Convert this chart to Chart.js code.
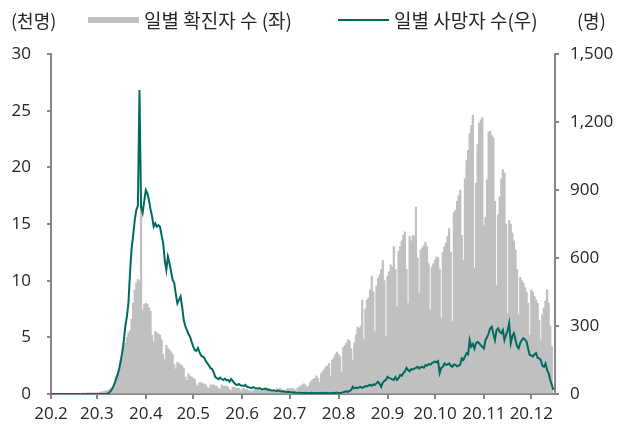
<!DOCTYPE html>
<html>
<head>
<meta charset="utf-8">
<script src="https://cdn.jsdelivr.net/npm/chart.js@4.4.0/dist/chart.umd.min.js"></script>
<style>
  html, body { margin: 0; padding: 0; background: #fff; }
</style>
</head>
<body>
<canvas id="myChart" width="630" height="428"></canvas>
<script>
// month tick labels and number of days shown in each month (Feb 1 .. Dec 16, 2020)
const monthTicks = ["20.2", "20.3", "20.4", "20.5", "20.6", "20.7", "20.8", "20.9", "20.10", "20.11", "20.12"];
const monthDays = [29, 31, 30, 31, 30, 31, 31, 30, 31, 30, 16];

// daily confirmed cases, thousands (left axis)
const casesFeb = [0,0,0,0,0,0,0,0,0,0,0,0,0,0,0,0,0,0,0,0,0.05,0.05,0,0.1,0.05,0.05,0.1,0.1,0.1];
const casesMar = [0.1,0.1,0.15,0.2,0.2,0.25,0.3,0.3,0.4,0.5,0.6,0.8,1.5,1.6,2.2,3.0,3.6,4.3,4.5,5.0,5.4,5.6,6.6,8.0,9.2,9.8,10.1,10.0,16.5,7.4,7.9];
const casesApr = [8.0,7.9,7.6,7.3,5.2,4.6,5.5,5.4,5.3,5.2,4.8,3.5,3.0,4.3,4.0,3.9,3.7,3.5,2.6,2.2,2.8,2.7,2.6,2.5,2.3,1.5,1.2,1.8,1.6,1.5];
const casesMay = [1.4,1.3,0.8,0.7,1.0,1.0,0.9,0.9,0.8,0.6,0.5,0.8,0.8,0.8,0.7,0.7,0.5,0.4,0.8,0.7,0.7,0.7,0.6,0.4,0.3,0.6,0.6,0.5,0.5,0.5,0.3];
const casesJun = [0.4,0.5,0.4,0.4,0.3,0.3,0.2,0.3,0.4,0.4,0.4,0.3,0.3,0.2,0.3,0.4,0.4,0.5,0.4,0.3,0.2,0.3,0.5,0.4,0.5,0.4,0.3,0.3,0.4,0.5];
const casesJul = [0.4,0.5,0.5,0.4,0.3,0.5,0.6,0.7,0.8,0.9,0.8,0.6,0.7,1.0,1.2,1.3,1.4,1.6,1.4,1.0,1.8,2.0,2.2,2.4,2.5,2.7,1.6,3.0,3.2,3.5,3.7];
const casesAug = [3.5,3.3,1.9,4.1,4.3,4.5,4.8,4.7,4.0,3.0,4.5,5.2,5.9,5.8,6.0,8.3,4.8,7.5,8.3,8.5,9.2,10.4,9.0,5.5,9.5,10.2,10.5,11.0,11.8,10.0,5.1];
const casesSep = [10.4,10.8,11.4,11.2,13.0,11.0,7.7,12.6,13.0,13.5,14.0,14.3,11.0,8.0,13.9,13.5,14.0,13.9,16.5,12.0,8.9,12.7,12.9,13.1,13.4,13.0,11.5,7.4,11.2,11.5];
const casesOct = [11.8,12.1,12.0,11.0,6.7,12.5,13.0,13.3,13.9,14.6,12.5,6.4,16.0,16.2,17.0,17.5,18.0,14.0,11.8,19.0,20.6,21.5,23.0,23.7,24.6,11.1,18.6,22.0,23.9,24.2,24.4];
const casesNov = [14.9,15.6,18.9,23.1,23.2,22.8,22.6,17.0,9.6,15.8,17.4,19.0,19.8,19.5,15.0,7.1,15.3,15.0,14.2,13.5,12.7,11.0,7.0,10.3,10.0,9.8,9.4,9.0,8.0,5.2];
const casesDec = [9.2,9.0,8.6,8.3,8.0,6.5,4.8,7.0,7.6,8.2,9.2,8.0,6.0,4.2,null,null];

// daily deaths, persons (right axis)
const deathsFeb = [0,0,0,0,0,0,0,0,0,0,0,0,0,0,0,0,0,0,0,0,0,0,0,0,0,0,0,0,0];
const deathsMar = [0,0,0,0,0,0,0,2,8,15,26,42,62,82,106,140,180,230,297,340,400,533,640,700,767,812,830,1341,826,800,850];
const deathsApr = [900,885,856,815,782,738,753,738,745,738,700,665,590,547,606,577,540,503,489,440,400,415,430,385,326,300,282,265,253,230];
const deathsMay = [210,194,190,203,185,170,165,160,145,135,125,114,110,95,75,70,65,72,66,62,68,60,62,55,66,58,48,42,40,44,38];
const deathsJun = [38,35,40,32,30,28,26,30,27,25,24,26,22,20,22,24,20,18,17,15,16,14,13,15,12,11,12,10,9,10];
const deathsJul = [9,8,7,8,6,5,5,6,5,4,5,4,3,4,5,4,3,4,3,4,5,4,3,5,4,3,3,4,5,4,6];
const deathsAug = [5,4,6,8,10,12,9,14,18,32,25,28,26,30,32,27,30,35,33,38,40,36,42,40,48,54,45,32,50,58,62];
const deathsSep = [76,70,69,65,62,75,62,70,84,80,92,100,115,106,100,110,108,112,115,120,112,118,120,116,128,125,132,130,135,140];
const deathsOct = [143,140,145,92,115,120,135,128,130,135,125,120,130,128,122,125,130,157,150,165,180,175,238,209,220,200,224,230,224,215,209];
const deathsNov = [201,238,250,268,290,297,265,238,282,290,275,268,282,238,260,280,312,224,255,268,238,210,201,225,238,246,240,231,200,172];
const deathsDec = [170,165,175,180,160,157,150,125,120,135,106,91,62,40,18,null];

const barColor = "#c0c0c0";
const lineColor = "#006b5f";
const axisColor = "#868686";
const textColor = "#262626";

let cases = [].concat(casesFeb, casesMar, casesApr, casesMay, casesJun, casesJul, casesAug, casesSep, casesOct, casesNov, casesDec);
let deaths = [].concat(deathsFeb, deathsMar, deathsApr, deathsMay, deathsJun, deathsJul, deathsAug, deathsSep, deathsOct, deathsNov, deathsDec);

// one category per day, month label on the first day only
let labels = [];
monthDays.forEach((n, m) => {
    for (let i = 0; i < n; i++) labels.push(i === 0 ? monthTicks[m] : "");
});

let headerText = {
    id: "headerText",
    afterDraw: (chart) => {
        let c = chart.ctx;
        c.save();
        c.fillStyle = textColor;
        c.textBaseline = "middle";
        c.textAlign = "left";
        c.font = '18px "Noto Sans CJK KR"';
        c.fillText("(천명)", 11, 21);
        c.fillText("(명)", 577, 21);
        c.font = '19px "Noto Sans CJK KR"';
        c.fillText("일별 확진자 수 (좌)", 144, 21);
        c.fillText("일별 사망자 수(우)", 394, 21);
        c.fillStyle = barColor;
        c.fillRect(88, 17, 51, 6);
        c.strokeStyle = lineColor;
        c.lineWidth = 2;
        c.beginPath();
        c.moveTo(338, 20);
        c.lineTo(389, 20);
        c.stroke();
        c.restore();
    },
};

var ctx = document.getElementById("myChart").getContext("2d");
var myChart = new Chart(ctx, {
    type: "bar",
    data: {
        labels: labels,
        datasets: [
            {
                type: "line",
                label: "일별 사망자 수(우)",
                data: deaths,
                yAxisID: "y1",
                borderColor: lineColor,
                borderWidth: 2,
                pointRadius: 0,
                tension: 0,
                order: 0,
            },
            {
                label: "일별 확진자 수 (좌)",
                data: cases,
                yAxisID: "y",
                backgroundColor: barColor,
                borderWidth: 0,
                barPercentage: 1,
                categoryPercentage: 1,
                order: 1,
            },
        ],
    },
    options: {
        responsive: false,
        animation: false,
        devicePixelRatio: 1,
        layout: { padding: { top: 54 } },
        plugins: {
            legend: { display: false },
            tooltip: { enabled: false },
        },
        scales: {
            x: {
                offset: false,
                grid: { offset: false, drawOnChartArea: false, color: axisColor, tickLength: 5, lineWidth: 2 },
                border: { color: axisColor, width: 2 },
                ticks: {
                    autoSkip: false,
                    maxRotation: 0,
                    padding: 5,
                    color: textColor,
                    font: { family: "Open Sans", size: 17 },
                    callback: (v, i) => (labels[i] ? labels[i] : null),
                },
                afterFit: (s) => { s.height = 34; },
            },
            y: {
                position: "left",
                min: 0,
                max: 30,
                grid: { drawOnChartArea: false, color: axisColor, tickLength: 4, lineWidth: 2 },
                border: { color: axisColor, width: 2 },
                ticks: {
                    stepSize: 5,
                    padding: 16,
                    color: textColor,
                    font: { family: "Open Sans", size: 17 },
                },
                afterFit: (s) => { s.width = 51; },
            },
            y1: {
                position: "right",
                min: 0,
                max: 1500,
                grid: { drawOnChartArea: false, color: axisColor, tickLength: 4, lineWidth: 2 },
                border: { color: axisColor, width: 2 },
                ticks: {
                    stepSize: 300,
                    padding: 11,
                    color: textColor,
                    font: { family: "Open Sans", size: 17 },
                    callback: (v) => v.toLocaleString("en-US"),
                },
                afterFit: (s) => { s.width = 75; },
            },
        },
    },
    plugins: [headerText],
});
</script>
</body>
</html>
